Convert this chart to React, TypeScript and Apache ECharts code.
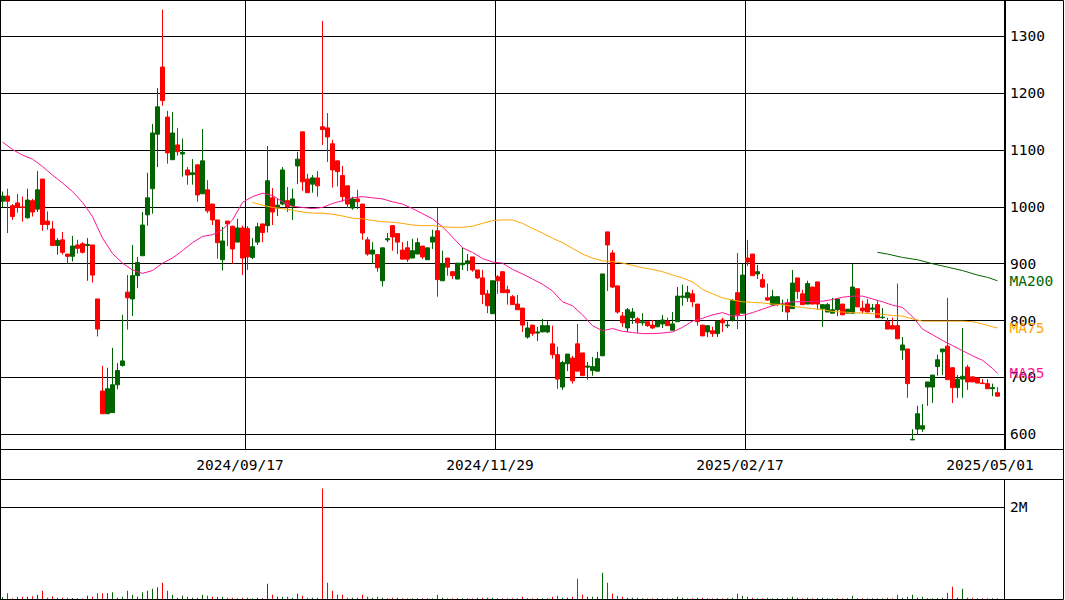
import React, { useEffect, useRef } from "react";
import * as echarts from "echarts";

const opens = [
  1010, 1019, 1002, 1007, 1000, 981, 1011, 996, 1049, 975,
  961, 932, 942, 917, 913, 933, 935, 932, 933, 838,
  676, 636, 638, 687, 721, 850, 838, 879, 914, 986,
  1032, 1128, 1246, 1158, 1083, 1109, 1093, 1065, 1057, 1074,
  1023, 1030, 1005, 977, 907, 975, 966, 938, 963, 962,
  911, 938, 970, 967, 1016, 998, 1005, 1011, 1002, 1072,
  1132, 1049, 1040, 1051, 1141, 1139, 1111, 1081, 1055, 1037,
  998, 1014, 1005, 942, 917, 916, 870, 942, 967, 953,
  924, 928, 910, 917, 931, 907, 938, 958, 870, 910,
  886, 873, 898, 900, 912, 889, 875, 847, 812, 877,
  886, 854, 842, 829, 822, 771, 792, 778, 780, 780,
  759, 740, 683, 724, 734, 759, 743, 718, 712, 711,
  738, 956, 919, 861, 808, 787, 805, 803, 796, 798,
  792, 789, 794, 799, 783, 798, 841, 840, 847, 829,
  792, 780, 782, 777, 801, 791, 801, 849, 813, 910,
  917, 882, 872, 840, 828, 828, 828, 831, 821, 875,
  847, 829, 859, 868, 821, 815, 813, 819, 829, 813,
  813, 856, 822, 829, 820, 828, 805, 798, 791, 791,
  748, 750, 590, 609, 609, 683, 683, 719, 745, 755,
  717, 682, 697, 718, 701, 699, 690, 689, 680, 673,
];
const closes = [
  1019, 1010, 983, 999, 999, 1012, 991, 1030, 969, 969,
  932, 941, 920, 913, 931, 927, 920, 934, 880, 785,
  636, 680, 687, 712, 729, 840, 879, 902, 968, 1016,
  1130, 1176, 1187, 1095, 1130, 1097, 1096, 1056, 1060, 1021,
  1081, 993, 977, 937, 940, 970, 926, 963, 910, 912,
  930, 965, 955, 1046, 991, 1003, 1065, 1000, 1014, 1084,
  1044, 1025, 1051, 1037, 1136, 1123, 1065, 1062, 1018, 1005,
  1014, 1009, 954, 917, 924, 893, 928, 944, 947, 938,
  908, 908, 923, 937, 912, 928, 947, 872, 900, 894,
  879, 901, 901, 905, 889, 875, 846, 826, 870, 870,
  849, 849, 828, 819, 792, 787, 777, 780, 791, 791,
  740, 697, 726, 741, 694, 711, 703, 720, 719, 733,
  882, 933, 859, 815, 796, 819, 815, 796, 798, 791,
  787, 799, 801, 791, 794, 843, 843, 849, 833, 798,
  773, 791, 777, 799, 796, 792, 835, 810, 880, 903,
  879, 886, 859, 836, 842, 842, 829, 815, 866, 851,
  828, 865, 829, 829, 828, 828, 819, 838, 810, 820,
  859, 824, 817, 815, 822, 805, 806, 785, 785, 768,
  757, 689, 591, 636, 615, 692, 704, 731, 750, 696,
  682, 697, 702, 692, 692, 690, 689, 680, 682, 667,
];
const lows = [
  999, 954, 977, 990, 974, 979, 983, 991, 958, 960,
  932, 916, 916, 900, 904, 918, 918, 870, 867, 772,
  636, 636, 638, 679, 719, 784, 808, 857, 914, 967,
  988, 1070, 1178, 1076, 1083, 1090, 1053, 1039, 1039, 1009,
  1023, 989, 968, 909, 888, 931, 900, 938, 880, 889,
  908, 933, 938, 955, 968, 984, 1003, 991, 977, 1040,
  1028, 1025, 1025, 1018, 1109, 1079, 1034, 1036, 1009, 998,
  995, 996, 942, 914, 900, 886, 860, 938, 923, 917,
  908, 903, 910, 917, 908, 907, 926, 842, 870, 879,
  873, 873, 889, 887, 886, 873, 829, 813, 812, 847,
  849, 828, 828, 819, 780, 768, 773, 764, 780, 778,
  733, 680, 678, 711, 689, 711, 703, 696, 703, 711,
  738, 852, 857, 812, 789, 780, 794, 778, 791, 789,
  785, 789, 787, 791, 783, 798, 826, 833, 824, 791,
  773, 771, 771, 771, 780, 787, 798, 785, 813, 896,
  879, 873, 857, 835, 826, 826, 815, 801, 821, 838,
  828, 829, 829, 819, 789, 815, 813, 808, 810, 813,
  813, 824, 813, 815, 815, 805, 803, 785, 785, 768,
  731, 664, 590, 599, 604, 650, 655, 703, 704, 696,
  655, 664, 664, 678, 692, 690, 689, 680, 667, 667,
];
const highs = [
  1027, 1032, 1005, 1023, 1018, 1032, 1014, 1063, 1049, 992,
  975, 945, 956, 917, 949, 942, 938, 945, 933, 838,
  720, 717, 752, 725, 810, 880, 933, 912, 991, 1060,
  1146, 1209, 1347, 1169, 1167, 1139, 1120, 1070, 1084, 1074,
  1137, 1047, 1005, 977, 965, 975, 967, 979, 967, 966,
  945, 972, 970, 1107, 1033, 1014, 1070, 1035, 1032, 1097,
  1132, 1058, 1056, 1063, 1327, 1165, 1118, 1081, 1072, 1037,
  1018, 1030, 1005, 947, 938, 916, 928, 954, 967, 953,
  938, 940, 944, 945, 931, 928, 960, 998, 923, 910,
  886, 901, 928, 917, 912, 889, 889, 854, 870, 880,
  886, 861, 845, 845, 822, 798, 792, 789, 803, 799,
  791, 754, 729, 741, 738, 794, 743, 727, 736, 745,
  882, 956, 924, 861, 815, 822, 822, 806, 813, 798,
  801, 801, 810, 805, 815, 859, 863, 861, 854, 829,
  792, 791, 789, 799, 805, 801, 838, 919, 900, 942,
  917, 898, 882, 865, 854, 842, 837, 838, 889, 875,
  854, 870, 859, 868, 828, 831, 840, 838, 829, 820,
  900, 856, 835, 838, 829, 835, 822, 805, 805, 865,
  771, 750, 609, 650, 653, 692, 704, 740, 750, 840,
  717, 704, 787, 722, 701, 699, 697, 697, 689, 683,
];
// volume in thousands of shares
const volumes = [
  44, 124, 15, 51, 51, 51, 58, 95, 182, 29,
  58, 29, 29, 29, 22, 15, 12, 73, 51, 124,
  124, 124, 146, 29, 51, 182, 95, 51, 146, 182,
  226, 255, 357, 182, 95, 29, 73, 51, 29, 29,
  95, 73, 51, 51, 51, 29, 29, 15, 29, 29,
  15, 29, 15, 335, 95, 51, 51, 51, 29, 116,
  73, 29, 29, 29, 2410, 357, 182, 95, 95, 29,
  29, 29, 95, 51, 29, 51, 29, 15, 29, 29,
  15, 15, 15, 15, 15, 15, 15, 95, 29, 15,
  15, 15, 15, 15, 15, 29, 29, 29, 29, 15,
  15, 15, 15, 15, 51, 15, 15, 15, 15, 15,
  51, 73, 29, 29, 51, 444, 95, 51, 51, 51,
  575, 357, 116, 73, 51, 29, 29, 29, 15, 15,
  15, 15, 15, 15, 15, 51, 29, 15, 15, 29,
  29, 15, 15, 15, 15, 15, 29, 116, 73, 51,
  29, 15, 15, 29, 15, 15, 15, 29, 51, 29,
  15, 29, 15, 15, 29, 15, 15, 15, 15, 15,
  73, 15, 15, 15, 15, 15, 15, 29, 15, 95,
  29, 51, 95, 29, 51, 15, 15, 15, 29, 138,
  270, 29, 226, 29, 29, 15, 15, 15, 15, 15,
];

const ma25Idx = [
  0, 2, 4, 6, 8, 10, 12, 14, 16, 18, 20, 22, 24, 26, 28, 30, 32, 34, 36, 38,
  40, 42, 44, 46, 48, 50, 52, 54, 56, 58, 60, 62, 64, 66, 68, 70, 72, 74, 76, 78,
  80, 82, 84, 86, 88, 90, 92, 94, 96, 98, 100, 102, 104, 106, 108, 110, 112, 114, 116, 118,
  120, 122, 124, 126, 128, 130, 132, 134, 136, 138, 140, 142, 144, 146, 148, 150, 152, 154, 156, 158,
  160, 162, 164, 166, 168, 170, 172, 174, 176, 178, 180, 182, 184, 186, 188, 190, 192, 194, 196, 198, 199,
];
const ma25Val = [
  1114, 1101, 1091, 1084, 1071, 1056, 1042, 1027, 1008, 983, 945, 918, 901, 889, 883, 888, 901, 910, 923, 937,
  948, 951, 960, 977, 1008, 1018, 1024, 1020, 1009, 1001, 999, 997, 999, 1006, 1011, 1016, 1018, 1016, 1014, 1009,
  1005, 997, 988, 979, 965, 947, 928, 920, 909, 903, 901, 890, 882, 873, 864, 852, 833, 826, 810, 791,
  782, 786, 781, 779, 777, 777, 778, 780, 788, 799, 804, 810, 814, 808, 809, 814, 820, 826, 830, 833,
  833, 834, 834, 837, 841, 843, 843, 838, 833, 827, 823, 807, 785, 775, 765, 756, 747, 738, 730, 716, 707,
];
const ma75Idx = [
  50, 52, 54, 56, 58, 60, 62, 64, 66, 68, 70, 72, 74, 76, 78,
  80, 82, 84, 86, 88, 90, 92, 94, 96, 98, 100, 102, 104, 106, 108, 110, 112, 114, 116, 118,
  120, 122, 124, 126, 128, 130, 132, 134, 136, 138, 140, 142, 144, 146, 148, 150, 152, 154, 156, 158,
  160, 162, 164, 166, 168, 170, 172, 174, 176, 178, 180, 182, 184, 186, 188, 190, 192, 194, 196, 198, 199,
];
const ma75Val = [
  1008, 1003, 999, 997, 994, 991, 989, 989, 987, 984, 980, 979, 976, 974, 973,
  971, 968, 967, 967, 965, 964, 964, 966, 971, 976, 977, 977, 971, 962, 954, 945, 937, 927, 917, 910,
  905, 904, 901, 897, 893, 890, 886, 880, 875, 868, 855, 847, 840, 836, 833, 832, 831, 829, 828, 825,
  823, 821, 819, 816, 815, 814, 813, 812, 811, 809, 808, 803, 799, 799, 799, 799, 799, 798, 794, 789, 787,
];
const ma200Idx = [175, 177, 180, 183, 186, 189, 192, 195, 197, 199];
const ma200Val = [920, 917, 911, 907, 900, 894, 888, 880, 876, 870];

const tickIndex = [49, 99, 149, 199];
const tickDates = ["2024/09/17", "2024/11/29", "2025/02/17", "2025/05/01"];

const RED = "#ff0000";
const GREEN = "#006400";
const PINK = "#ff1493";
const ORANGE = "#ffa500";
const MA200C = "#006400";
const FONT = "DejaVu Sans Mono";
const FS = 14.5;

export default function App() {
  const ref = useRef<HTMLDivElement>(null);
  useEffect(() => {
    const chart = echarts.init(ref.current!, null, { renderer: "svg" });
    const N = opens.length + 1;
    const cats: string[] = Array.from({ length: N }, () => "");
    tickIndex.forEach((k, j) => (cats[k] = tickDates[j]));
    const kData = opens.map((o, i) => [o, closes[i], lows[i], highs[i]]);
    const volData = volumes.map((v, i) => ({
      value: v,
      itemStyle: { color: closes[i] >= opens[i] ? GREEN : RED },
    }));
    const toLine = (idx: number[], val: number[]) => {
      const arr: (number | null)[] = new Array(opens.length).fill(null);
      idx.forEach((k, j) => (arr[k] = val[j]));
      return arr;
    };
    const maSeries = (name: string, idx: number[], val: number[], color: string) => ({
      name,
      type: "line",
      xAxisIndex: 0,
      yAxisIndex: 0,
      data: toLine(idx, val),
      connectNulls: true,
      symbol: "none",
      lineStyle: { color, width: 1 },
      itemStyle: { color },
      z: 3,
      endLabel: {
        show: true,
        formatter: name,
        color,
        fontFamily: FONT,
        fontSize: FS,
        distance: 12,
      },
    });
    chart.setOption({
      animation: false,
      backgroundColor: "#ffffff",
      grid: [
        { left: 0, top: 0, width: 1005, height: 449 },
        { left: 0, top: 479, width: 1005, height: 120 },
      ],
      xAxis: [
        {
          type: "category",
          gridIndex: 0,
          data: cats,
          boundaryGap: true,
          axisLine: { show: false },
          axisTick: { show: false },
          axisLabel: {
            interval: (i: number) => cats[i] !== "",
            color: "#000",
            fontFamily: FONT,
            fontSize: FS,
            margin: 8,
            padding: [0, 15, 0, 0],
          },
          splitLine: {
            show: true,
            interval: (i: number) => cats[i] !== "" && i < opens.length - 1,
            lineStyle: { color: "#000", width: 1 },
          },
        },
        {
          type: "category",
          gridIndex: 1,
          data: cats,
          boundaryGap: true,
          axisLine: { show: false },
          axisTick: { show: false },
          axisLabel: { show: false },
          splitLine: { show: false },
        },
      ],
      yAxis: [
        {
          type: "value",
          gridIndex: 0,
          position: "right",
          min: 574,
          max: 1364,
          splitNumber: 8,
          axisLine: { show: false },
          axisTick: { show: false },
          axisLabel: {
            color: "#000",
            fontFamily: FONT,
            fontSize: FS,
            margin: 5,
            showMinLabel: false,
            showMaxLabel: false,
            formatter: (v: number) => String(v),
          },
          splitLine: { show: true, lineStyle: { color: "#000", width: 1 } },
        },
        {
          type: "value",
          gridIndex: 1,
          position: "right",
          min: 0,
          max: 2620,
          interval: 2000,
          axisLine: { show: false },
          axisTick: { show: false },
          axisLabel: {
            color: "#000",
            fontFamily: FONT,
            fontSize: FS,
            margin: 5,
            showMinLabel: false,
            showMaxLabel: false,
            formatter: (v: number) => v / 1000 + "M",
          },
          splitLine: { show: true, lineStyle: { color: "#000", width: 1 } },
        },
      ],
      series: [
        {
          name: "price",
          type: "candlestick",
          xAxisIndex: 0,
          yAxisIndex: 0,
          data: kData,
          barWidth: 4,
          itemStyle: {
            color: GREEN,
            color0: RED,
            borderColor: GREEN,
            borderColor0: RED,
            borderWidth: 1,
          },
          z: 2,
        },
        maSeries("MA25", ma25Idx, ma25Val, PINK),
        maSeries("MA75", ma75Idx, ma75Val, ORANGE),
        maSeries("MA200", ma200Idx, ma200Val, MA200C),
        {
          name: "volume",
          type: "bar",
          xAxisIndex: 1,
          yAxisIndex: 1,
          data: volData,
          barWidth: 1,
        },
      ],
      graphic: [
        {
          type: "rect",
          silent: true,
          z: 100,
          shape: { x: 0.5, y: 0.5, width: 1063, height: 599 },
          style: { fill: "none", stroke: "#000", lineWidth: 1 },
        },
        {
          type: "line",
          silent: true,
          z: 100,
          shape: { x1: 0, y1: 449.5, x2: 1064, y2: 449.5 },
          style: { stroke: "#000", lineWidth: 1 },
        },
        {
          type: "line",
          silent: true,
          z: 100,
          shape: { x1: 0, y1: 479.5, x2: 1064, y2: 479.5 },
          style: { stroke: "#000", lineWidth: 1 },
        },
        {
          type: "line",
          silent: true,
          z: 100,
          shape: { x1: 1004.5, y1: 0, x2: 1004.5, y2: 449.5 },
          style: { stroke: "#000", lineWidth: 1 },
        },
        {
          type: "line",
          silent: true,
          z: 100,
          shape: { x1: 1004.5, y1: 479.5, x2: 1004.5, y2: 600 },
          style: { stroke: "#000", lineWidth: 1 },
        },
      ],
    });
    return () => chart.dispose();
  }, []);
  return (
    <div
      ref={ref}
      style={{ position: "fixed", left: 0, top: 0, width: 1065, height: 600, background: "#fff" }}
    />
  );
}
